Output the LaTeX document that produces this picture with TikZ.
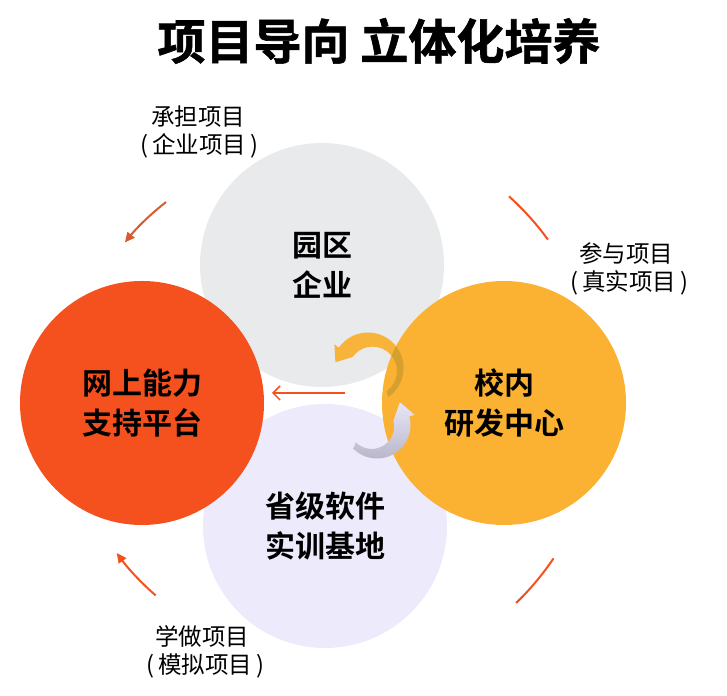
\documentclass[tikz,border=0pt]{standalone}
\usepackage{fontspec}
\setmainfont{Noto Sans CJK SC}[BoldFont={Noto Sans CJK SC Bold}]
\newfontfamily\titlefont{Noto Sans CJK SC Bold}[FakeBold=1.2]
\usetikzlibrary{arrows.meta,calc}
\definecolor{cgray}{HTML}{E9EAEB}
\definecolor{clav}{HTML}{ECEAFB}
\definecolor{cred}{HTML}{F4511E}
\definecolor{cyel}{HTML}{FBB131}
\definecolor{carc}{HTML}{F4511E}
\definecolor{carcd}{HTML}{D85A30}
\definecolor{syel}{HTML}{F8B43A}
\definecolor{syeld}{HTML}{D6A030}
\definecolor{sgl}{HTML}{E8E6F6}
\definecolor{sgd}{HTML}{B7B4C8}
\begin{document}
\begin{tikzpicture}[x=1pt,y=1pt,
  bigc/.style={circle,minimum size=244pt,inner sep=0pt,align=center,font=\fontsize{30}{40}\selectfont\bfseries},
  lbl/.style={align=center,font=\fontsize{23.5}{28}\selectfont},
  ring/.style={line width=2pt,draw=carc},
  tip/.style={-{Triangle[length=10pt,width=9pt]}}]
\useasboundingbox (0,0) rectangle (727,695);
\node[font=\fontsize{48}{54}\titlefont] (title) at (379,654) {项目导向 立体化培养};
\node[bigc,fill=cgray] (park) at (322,430) {园区\\企业};
\node[bigc,fill=clav] (base) at (325,169) {省级软件\\实训基地};
\node[bigc,fill=cred] (net) at (142,292) {网上能力\\支持平台};
\node[bigc,fill=cyel] (rd) at (504,292) {校内\\研发中心};
\node[lbl] (l1) at (198,563) {承担项目\\\hspace*{3pt}(\,企业项目\,)};
\node[lbl] (l2) at (626,426) {参与项目\\\hspace*{7pt}(\,真实项目\,)};
\node[lbl] (l3) at (202,43) {学做项目\\\hspace*{7pt}(\,模拟项目\,)};
\coordinate (O) at (323,292);
\draw[ring,draw=carcd,tip] ($(O)+(128:255)$) arc[start angle=128,end angle=141,radius=255];
\draw[ring] ($(O)+(48:278)$) arc[start angle=48,end angle=36,radius=278];
\draw[ring] ($(O)+(-34:278)$) arc[start angle=-34,end angle=-46,radius=278];
\draw[ring,tip] ($(O)+(229:255)$) arc[start angle=229,end angle=216,radius=255];
\coordinate (ma) at (345,302);
\coordinate (mb) at (272,302);
\draw[line width=1.5pt,carc,-{Straight Barb[length=7pt,width=14pt]}] (ma) -- (mb);
\coordinate (cy) at (368,327);
\fill[syel] ($(cy)+(-55:35.5)$) arc[start angle=-55,end angle=145,radius=35.5] -- ($(cy)+(145:41)$) -- ($(cy)+(145:30)+(235:14)$) -- ($(cy)+(145:19)$) arc[start angle=145,end angle=-55,radius=24.5] -- cycle;
\begin{scope}
\clip (rd.center) circle (122);
\fill[syeld] ($(cy)+(-55:35.5)$) arc[start angle=-55,end angle=145,radius=35.5] -- ($(cy)+(145:41)$) -- ($(cy)+(145:30)+(235:14)$) -- ($(cy)+(145:19)$) arc[start angle=145,end angle=-55,radius=24.5] -- cycle;
\end{scope}
\coordinate (cg) at (377,270);
\shade[top color=sgl,bottom color=sgd] ($(cg)+(225:33.5)$) arc[start angle=225,end angle=375,radius=33.5] -- ($(cg)+(15:39)$) -- ($(cg)+(15:28)+(105:16)$) -- ($(cg)+(15:17)$) arc[start angle=375,end angle=225,radius=22.5] -- cycle;
\end{tikzpicture}
\end{document}
